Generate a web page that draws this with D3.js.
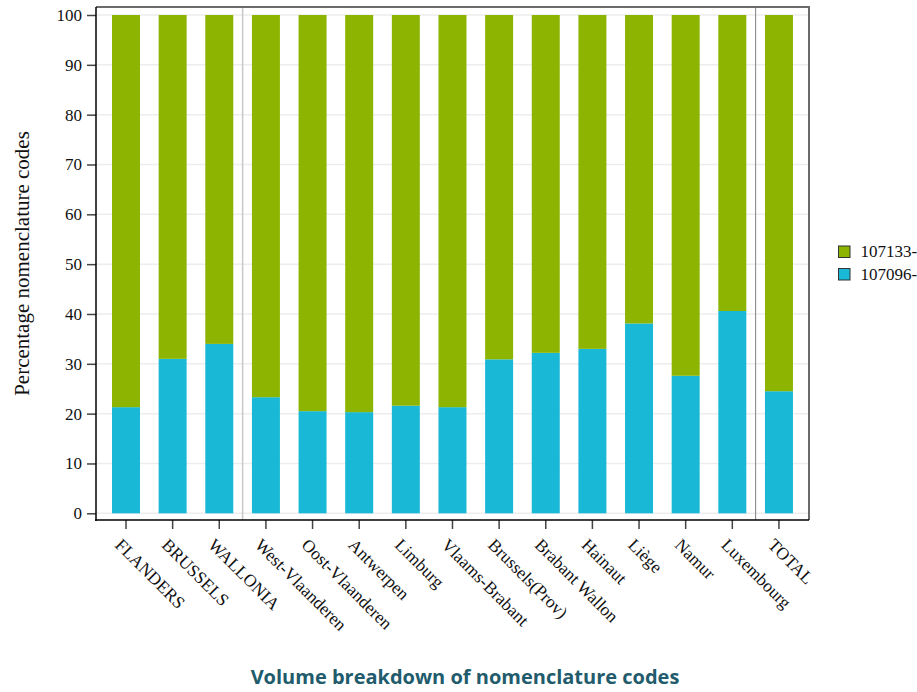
<!DOCTYPE html>
<html>
<head>
<meta charset="utf-8">
<script src="https://cdn.jsdelivr.net/npm/d3@7/dist/d3.min.js"></script>
<style>
  html, body { margin: 0; padding: 0; background: #fff; }
  svg { display: block; }
</style>
</head>
<body>
<svg id="chart" width="917" height="692"></svg>
<script>
const categories = ["FLANDERS", "BRUSSELS", "WALLONIA", "West-Vlaanderen", "Oost-Vlaanderen", "Antwerpen", "Limburg", "Vlaams-Brabant", "Brussels(Prov)", "Brabant Wallon", "Hainaut", "Liège", "Namur", "Luxembourg", "TOTAL"];
const series107096 = [21.3, 31.0, 34.0, 23.3, 20.5, 20.3, 21.6, 21.3, 30.9, 32.2, 33.0, 38.1, 27.6, 40.6, 24.5];
const series107133 = series107096.map(v => 100 - v);
const seriesNames = ["107096-", "107133-"];
const yTicks = [0, 10, 20, 30, 40, 50, 60, 70, 80, 90, 100];
const separatorsAfter = ["WALLONIA", "Luxembourg"];

const colors = { "107096-": "#18b8d6", "107133-": "#8cb400" };

const svg = d3.select("#chart");
const frame = { left: 96, right: 809, top: 7, bottom: 520 };

const x = d3.scaleBand().domain(categories).range([102.68, 802.28]).paddingInner(0.4).paddingOuter(0.2);
const y = d3.scaleLinear().domain([0, 100]).range([513.3, 15]);

const serif = "'Liberation Serif', 'DejaVu Serif', serif";

// gridlines
svg.append("g").selectAll("line").data(yTicks).join("line")
  .attr("x1", frame.left).attr("x2", frame.right)
  .attr("y1", d => y(d)).attr("y2", d => y(d))
  .attr("stroke", "#ededed").attr("stroke-width", 1.5);

// separators
svg.append("g").selectAll("line").data(separatorsAfter).join("line")
  .attr("x1", d => x(d) + x.bandwidth() + x.step() * x.paddingInner() / 2)
  .attr("x2", d => x(d) + x.bandwidth() + x.step() * x.paddingInner() / 2)
  .attr("y1", frame.top).attr("y2", frame.bottom)
  .attr("stroke", (d, i) => i === 0 ? "#c8c8c8" : "#808080")
  .attr("stroke-width", (d, i) => i === 0 ? 1.5 : 1);

// stacked bars
const rows = categories.map((c, i) => ({ cat: c, "107096-": series107096[i], "107133-": series107133[i] }));
const stack = d3.stack().keys(seriesNames)(rows);
svg.append("g").selectAll("g").data(stack).join("g")
  .attr("fill", d => colors[d.key])
  .selectAll("rect").data(d => d).join("rect")
  .attr("x", d => x(d.data.cat))
  .attr("width", x.bandwidth())
  .attr("y", d => y(d[1]))
  .attr("height", d => y(d[0]) - y(d[1]));

// frame top/right
svg.append("path")
  .attr("d", `M${frame.left},${frame.top}H${frame.right}V${frame.bottom}`)
  .attr("fill", "none").attr("stroke", "#6a6a6a").attr("stroke-width", 2);

// y axis
const yAxis = svg.append("g").attr("transform", `translate(${frame.left},0)`)
  .attr("font-family", serif)
  .call(d3.axisLeft(y).tickValues(yTicks).tickSize(9).tickPadding(5));
yAxis.attr("font-family", serif).attr("font-size", "17px");
yAxis.select(".domain").remove();
yAxis.selectAll(".tick line").attr("stroke", "#444").attr("stroke-width", 1.5);
yAxis.selectAll(".tick text").attr("font-family", serif).attr("font-size", "17px").attr("fill", "#111");
svg.append("line").attr("x1", frame.left).attr("x2", frame.left).attr("y1", frame.top).attr("y2", frame.bottom + 1)
  .attr("stroke", "#000").attr("stroke-width", 1.5);

// x axis
const xAxis = svg.append("g").attr("transform", `translate(0,${frame.bottom})`)
  .call(d3.axisBottom(x).tickSize(9).tickFormat(""));
xAxis.select(".domain").remove();
xAxis.selectAll(".tick line").attr("stroke", "#444").attr("stroke-width", 1.5);
svg.append("line").attr("x1", frame.left - 1).attr("x2", frame.right).attr("y1", frame.bottom).attr("y2", frame.bottom)
  .attr("stroke", "#000").attr("stroke-width", 1.5);

svg.append("g").selectAll("text").data(categories).join("text")
  .attr("transform", d => `translate(${x(d) + x.bandwidth() / 2 - 12},546) rotate(45)`)
  .attr("text-anchor", "start")
  .attr("font-family", serif).attr("font-size", "17.5px").attr("fill", "#111")
  .text(d => d);

// y title
svg.append("text")
  .attr("transform", `translate(29,${(frame.top + frame.bottom) / 2}) rotate(-90)`)
  .attr("text-anchor", "middle")
  .attr("font-family", serif).attr("font-size", "21px").attr("fill", "#111")
  .text("Percentage nomenclature codes");

// legend
const legendItems = ["107133-", "107096-"];
const lg = svg.append("g").selectAll("g").data(legendItems).join("g")
  .attr("transform", (d, i) => `translate(838.5,${246 + i * 22.5})`);
lg.append("rect").attr("width", 11.5).attr("height", 11.5)
  .attr("fill", d => colors[d]).attr("stroke", "#333").attr("stroke-width", 1);
lg.append("text").attr("x", 22).attr("y", 11)
  .attr("font-family", serif).attr("font-size", "17px").attr("fill", "#111")
  .text(d => d);

// bottom title
svg.append("text")
  .attr("x", 465).attr("y", 684)
  .attr("text-anchor", "middle")
  .attr("font-family", "'Open Sans', sans-serif").attr("font-weight", "bold")
  .attr("font-size", "20px").attr("fill", "#215b6c")
  .text("Volume breakdown of nomenclature codes");
</script>
</body>
</html>
